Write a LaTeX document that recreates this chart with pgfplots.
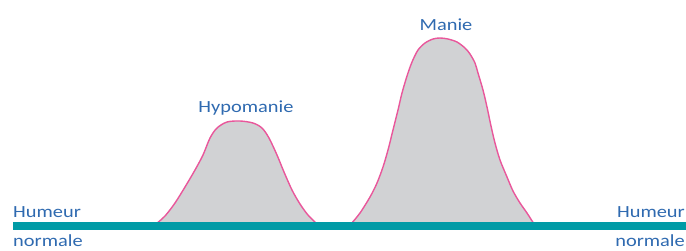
\documentclass[border=0pt]{standalone}
\usepackage{fontspec}
\setmainfont{Carlito}
\newfontfamily\lab[FakeStretch=1.2]{Carlito}
\usepackage{pgfplots}
\pgfplotsset{compat=1.18}
\definecolor{teal2}{HTML}{009BA6}
\definecolor{pink2}{HTML}{E9579B}
\definecolor{grayfill}{HTML}{D1D2D4}
\definecolor{bluetxt}{HTML}{2F6AB0}
\tikzset{lbl/.style={font=\lab\fontsize{17}{20}\selectfont, text=bluetxt, inner sep=0pt}}
\begin{document}
\begin{tikzpicture}
\begin{axis}[
  scale only axis, width=686pt, height=250pt,
  xmin=0, xmax=686, ymin=0, ymax=250, y dir=reverse,
  axis lines=none, clip=false,
]
\addplot[fill=grayfill, draw=pink2, line width=1.4pt, smooth, tension=0.5] coordinates {
(156,224)(165,216)(175,203)(185,187)(195,170)(203,155)(210,138)(217,128)(227,122)(240,121)(253,123)(262,128)(269,138)(277,155)(284,172)(292,190)(300,204)(308,215)(317,224)};
\addplot[fill=grayfill, draw=pink2, line width=1.4pt, smooth, tension=0.5] coordinates {
(351,224)(360,213)(370,197)(377,183)(383,167)(388,150)(393,130)(398,110)(402,93)(407,76)(412,62)(418,50)(425,43)(433,39)(440,38)(448,39)(457,42)(465,48)(470,54)(475,63)(478,73)(483,90)(487,107)(491,126)(495,143)(500,160)(507,177)(513,191)(520,203)(527,213)(534,224)};
\addplot[teal2, line width=8pt] coordinates {(13,226)(686,226)};
\node[lbl, anchor=base] at (axis cs:246,112) {Hypomanie};
\node[lbl, anchor=base] at (axis cs:446,30) {Manie};
\node[lbl, anchor=base west] at (axis cs:13,217) {Humeur};
\node[lbl, anchor=base west] at (axis cs:13,246) {normale};
\node[lbl, anchor=base east] at (axis cs:685,217) {Humeur};
\node[lbl, anchor=base east] at (axis cs:685,246) {normale};
\end{axis}
\pgfresetboundingbox
\path (0,0) rectangle (686pt,250pt);
\end{tikzpicture}
\end{document}
